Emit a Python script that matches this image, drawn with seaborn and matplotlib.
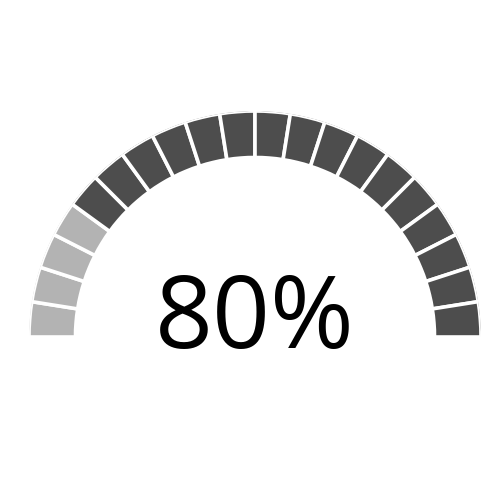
import numpy as np
import matplotlib
matplotlib.use("Agg")
import matplotlib.pyplot as plt
import seaborn as sns

# gauge data
value_pct = 80
n_segments = 20
n_light = 4  # light segments on the left end
label_text = "80%"

colors = {"dark": "#4d4d4d", "light": "#b3b3b3"}

sns.set_style("white")
plt.rcParams['font.family'] = ['Open Sans', 'DejaVu Sans']

fig = plt.figure(figsize=(5, 5), dpi=100)

# polar axes: center at (255, 337) px; radii in pixels (edge line eats ~1.8px)
r_outer = 226
r_inner = 179.5
cx, cy = 255, 500 - 337
ax = fig.add_axes([(cx - r_outer) / 500, (cy - r_outer) / 500,
                   2 * r_outer / 500, 2 * r_outer / 500], projection='polar')
ax.set_theta_zero_location('W')
ax.set_theta_direction(-1)

seg_width = np.pi / n_segments
thetas = np.arange(n_segments) * seg_width + seg_width / 2
seg_colors = [colors["light"] if i < n_light else colors["dark"] for i in range(n_segments)]

ax.bar(thetas, r_outer - r_inner, width=seg_width, bottom=r_inner,
       color=seg_colors, edgecolor="white", linewidth=2.6, align='center')

ax.set_ylim(0, r_outer)
ax.set_axis_off()

fig.text(255 / 500, 1 - 348 / 500, label_text, fontsize=73, ha='center',
         va='baseline', color='black')

fig.savefig("out.png", dpi=100, facecolor="white")
plt.close(fig)
